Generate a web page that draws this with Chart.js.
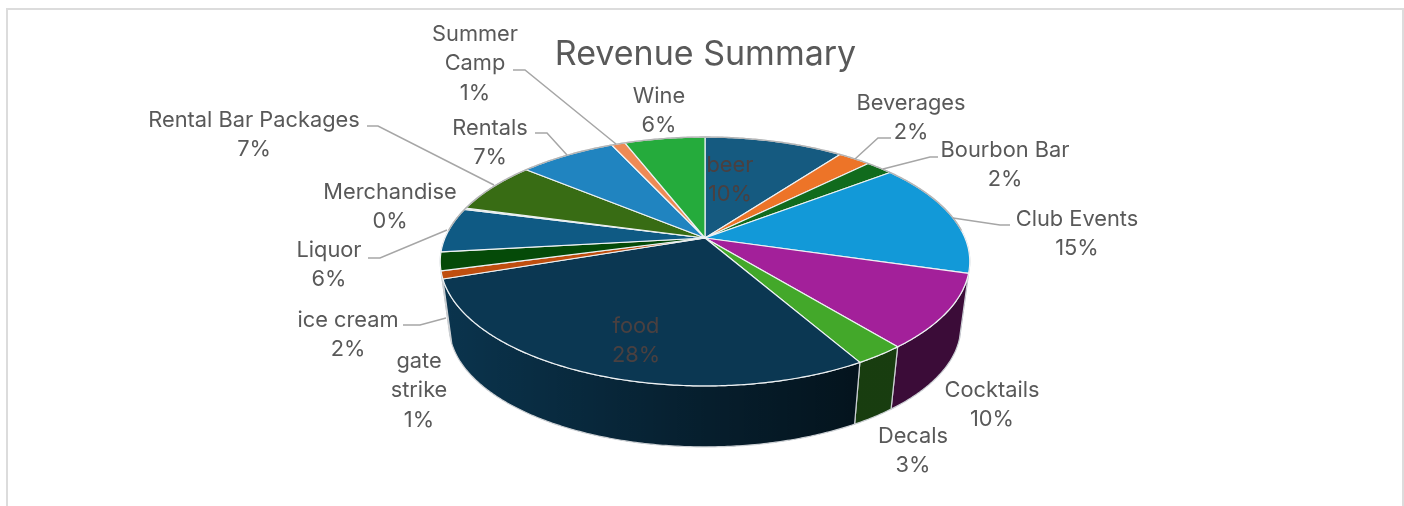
<!DOCTYPE html>
<html>
<head>
<meta charset="utf-8">
<title>Revenue Summary</title>
<script src="https://cdn.jsdelivr.net/npm/chart.js@4/dist/chart.umd.min.js"></script>
<style>
html, body { margin: 0; background: #fff; overflow: hidden; }
#frame { position: absolute; left: 6px; top: 8px; width: 1394px; height: 600px; border: 2px solid #dcdcdc; }
#myChart { position: absolute; left: 0; top: 0; }
</style>
</head>
<body>
<div id="frame"></div>
<canvas id="myChart" width="1404" height="506"></canvas>
<script>
const categories = ['beer', 'Beverages', 'Bourbon Bar', 'Club Events', 'Cocktails', 'Decals', 'food', 'gate strike',
    'ice cream', 'Liquor', 'Merchandise', 'Rental Bar Packages', 'Rentals', 'Summer Camp', 'Wine'];
const shares = [10.2, 2.4, 2.0, 14.9, 9.6, 2.6, 28.1, 1.0, 2.4, 5.8, 0.2, 6.8, 7.1, 1.0, 5.9];
const colors = ['#155a80', '#ed7428', '#116b1d', '#1299d8', '#a3209a', '#43a82a', '#0b3752', '#bf4e0f',
    '#054a08', '#0f5a84', '#d8d8d8', '#386c14', '#2084c0', '#ee8a55', '#25ab3c'];

// label text lines and where each label sits (centre x, centre y of first line)
const labelLines = [['beer'], ['Beverages'], ['Bourbon Bar'], ['Club Events'], ['Cocktails'], ['Decals'], ['food'],
    ['gate', 'strike'], ['ice cream'], ['Liquor'], ['Merchandise'], ['Rental Bar Packages'], ['Rentals'],
    ['Summer', 'Camp'], ['Wine']];
const labelPos = [[730, 164], [911, 102], [1005, 149], [1077, 218], [992, 389], [913, 435], [636, 325], [419, 360],
    [348, 319], [329, 249], [390, 191], [254, 119], [490, 127], [475, 33], [659, 95]];
const leaders = [
    [[855, 159], [878, 138], [891, 138]],
    [[883, 169], [930, 157], [938, 157]],
    [[953, 218], [1000, 225], [1010, 225]],
    [[447, 230], [380, 258], [368, 258]],
    [[446, 318], [420, 325], [403, 325]],
    [[494, 185], [378, 126], [367, 126]],
    [[567, 155], [547, 133], [535, 133]],
    [[616, 144], [525, 70], [513, 70]]
];

// tilted view of the pie
const cx = 705, cy = 238, rx = 260, ry = 120, persp = 0.1887;
const depthScale = 0.966, depthY = 66;

function project(angle, lower) {
    // chart.js angles start at 3 o'clock, going clockwise
    const u = Math.cos(angle), v = Math.sin(angle);
    const w = 1 / (1 - persp * v);
    const s = lower ? depthScale : 1;
    return [cx + rx * u * w * s, cy + (lower ? depthY : 0) + ry * v * w * s];
}

function rim(start, end, lower) {
    const pts = [];
    const steps = Math.max(2, Math.ceil((end - start) / 0.01));
    for (let i = 0; i <= steps; i++) {
        pts.push(project(start + (end - start) * i / steps, lower));
    }
    return pts;
}

function tracePath(ctx, pts) {
    ctx.beginPath();
    pts.forEach(function (p, i) {
        if (i === 0) ctx.moveTo(p[0], p[1]);
        else ctx.lineTo(p[0], p[1]);
    });
    ctx.closePath();
}

const tiltedPie = {
    id: 'tiltedPie',
    beforeDatasetsDraw(chart) {
        const ctx = chart.ctx;
        const arcs = chart.getDatasetMeta(0).data;
        ctx.save();
        ctx.lineJoin = 'round';

        // side wall, back to front
        const order = arcs.map(function (a, i) { return i; }).sort(function (p, q) {
            return Math.sin((arcs[p].startAngle + arcs[p].endAngle) / 2) - Math.sin((arcs[q].startAngle + arcs[q].endAngle) / 2);
        });
        const shade = ctx.createLinearGradient(440, 0, 970, 0);
        shade.addColorStop(0, 'rgba(0,0,0,0.05)');
        shade.addColorStop(0.5, 'rgba(0,0,0,0.45)');
        shade.addColorStop(0.78, 'rgba(0,0,0,0.64)');
        shade.addColorStop(1, 'rgba(0,0,0,0.64)');
        order.forEach(function (i) {
            const a = arcs[i];
            const wall = rim(a.startAngle, a.endAngle, false).concat(rim(a.startAngle, a.endAngle, true).reverse());
            tracePath(ctx, wall);
            ctx.fillStyle = colors[i];
            ctx.fill();
            ctx.fillStyle = shade;
            ctx.fill();
            ctx.strokeStyle = '#ccd0d4';
            ctx.lineWidth = 1.2;
            ctx.stroke();
        });

        // top face
        arcs.forEach(function (a, i) {
            tracePath(ctx, [[cx, cy]].concat(rim(a.startAngle, a.endAngle, false)));
            ctx.fillStyle = colors[i];
            ctx.fill();
            ctx.strokeStyle = '#eef2f4';
            ctx.lineWidth = 1.2;
            ctx.stroke();
        });

        // outer edge of the top, grey at the back
        const back = rim(Math.PI * 1.02, Math.PI * 1.98, false);
        ctx.beginPath();
        back.forEach(function (p, i) {
            if (i === 0) ctx.moveTo(p[0], p[1]);
            else ctx.lineTo(p[0], p[1]);
        });
        ctx.strokeStyle = '#b4b4b4';
        ctx.lineWidth = 1.4;
        ctx.stroke();
        ctx.restore();
        return false;
    },
    afterDraw(chart) {
        const ctx = chart.ctx;
        const total = shares.reduce(function (s, v) { return s + v; }, 0);
        ctx.save();

        ctx.strokeStyle = '#a6a6a6';
        ctx.lineWidth = 1.5;
        leaders.forEach(function (line) {
            ctx.beginPath();
            line.forEach(function (p, i) {
                if (i === 0) ctx.moveTo(p[0], p[1]);
                else ctx.lineTo(p[0], p[1]);
            });
            ctx.stroke();
        });

        ctx.font = '21.8px Inter';
        ctx.textAlign = 'center';
        ctx.textBaseline = 'middle';
        categories.forEach(function (name, i) {
            const onPie = name === 'beer' || name === 'food';
            ctx.fillStyle = onPie ? '#4a4040' : '#595959';
            const lines = labelLines[i].concat(Math.round(shares[i] / total * 100) + '%');
            lines.forEach(function (text, j) {
                ctx.fillText(text, labelPos[i][0], labelPos[i][1] + 1 + j * 29.5);
            });
        });
        ctx.restore();
    }
};

const myChart = new Chart(document.getElementById('myChart'), {
    type: 'pie',
    data: {
        labels: categories,
        datasets: [{
            label: 'Revenue',
            data: shares,
            backgroundColor: colors
        }]
    },
    options: {
        responsive: false,
        animation: false,
        layout: { padding: { left: 7 } },
        plugins: {
            legend: { display: false },
            tooltip: { enabled: false },
            title: {
                display: true,
                text: 'Revenue Summary',
                color: '#595959',
                font: { family: 'Inter', size: 34, weight: 'normal' },
                padding: { top: 34, bottom: 10 }
            }
        }
    },
    plugins: [tiltedPie]
});
</script>
</body>
</html>
